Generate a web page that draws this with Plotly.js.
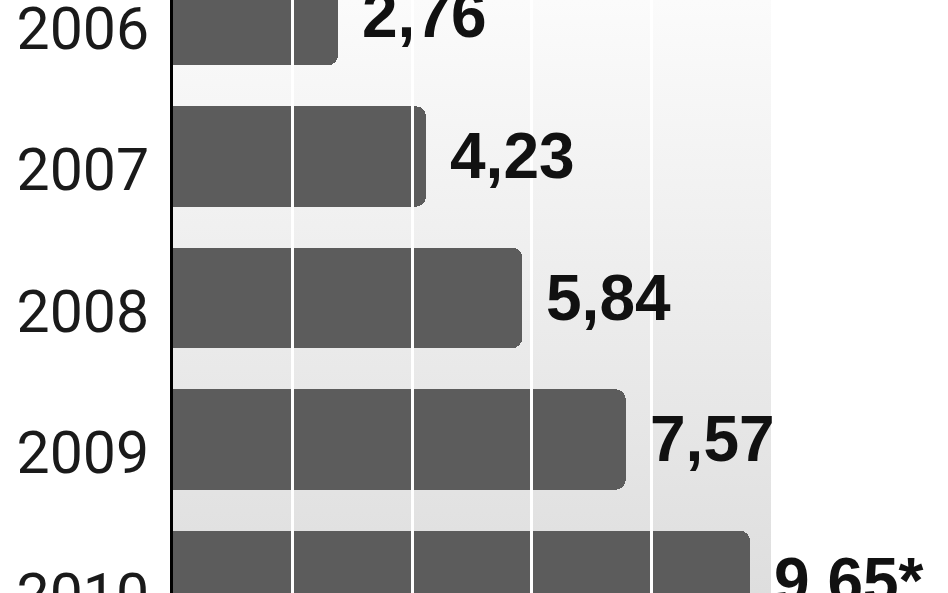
<!DOCTYPE html>
<html>
<head>
<meta charset="utf-8">
<script src="https://cdn.plot.ly/plotly-3.0.1.min.js"></script>
<style>
  html, body { margin: 0; padding: 0; background: #fff; }
  #chart { width: 948px; height: 593px; }
</style>
</head>
<body>
<div id="chart"></div>
<script>
// values
const years = ['2006', '2007', '2008', '2009', '2010'];
const values = [2.76, 4.23, 5.84, 7.57, 9.65];
const valueLabels = ['2,76', '4,23', '5,84', '7,57', '9,65*'];
const gridValues = [2, 4, 6, 8];

const BAR_COLOR = '#5c5c5c';
const LABEL_FONT = 'Liberation Sans, Arial, sans-serif';

// soft vertical gradient behind the plot area
const bgSvg = '<svg xmlns="http://www.w3.org/2000/svg" width="10" height="100" preserveAspectRatio="none">' +
  '<defs><linearGradient id="g" x1="0" y1="0" x2="0" y2="1">' +
  '<stop offset="0" stop-color="#fbfbfb"/><stop offset="1" stop-color="#dedede"/>' +
  '</linearGradient></defs><rect width="10" height="100" fill="url(#g)"/></svg>';

const trace = {
  type: 'bar',
  orientation: 'h',
  x: values,
  y: years,
  width: 0.71,
  marker: { color: BAR_COLOR, cornerradius: 10, line: { width: 0 } },
  hoverinfo: 'skip',
};

// category axis: annotations use the serial index of each year
const annotations = years.map((yr, i) => ({
  x: values[i],
  y: i,
  xref: 'x',
  yref: 'y',
  text: '<b>' + valueLabels[i] + '</b>',
  showarrow: false,
  xanchor: 'left',
  yanchor: 'middle',
  xshift: 22,
  font: { family: LABEL_FONT, size: 64, color: '#111' },
}));

const layout = {
  width: 948,
  height: 593,
  margin: { l: 173, r: 177, t: 0, b: 0 },
  paper_bgcolor: '#ffffff',
  plot_bgcolor: 'rgba(0,0,0,0)',
  showlegend: false,
  bargap: 0,
  xaxis: {
    range: [0, 10],
    showgrid: false,
    zeroline: false,
    showline: false,
    tickvals: gridValues,
    ticks: 'inside',
    ticklen: 600,
    tickwidth: 3,
    tickcolor: '#ffffff',
    showticklabels: false,
    layer: 'above traces',
    fixedrange: true,
  },
  yaxis: {
    type: 'category',
    range: [4.085, -0.106],
    showgrid: false,
    zeroline: false,
    showline: true,
    linecolor: '#000000',
    linewidth: 3,
    ticks: '',
    ticklabelstandoff: 9,
    ticklabelshift: -13,
    tickfont: { family: 'Roboto, sans-serif', size: 59, color: '#1a1a1a' },
    layer: 'above traces',
    fixedrange: true,
  },
  images: [{
    source: 'data:image/svg+xml;charset=utf-8,' + encodeURIComponent(bgSvg),
    xref: 'paper', yref: 'paper',
    x: 0, y: 1, sizex: 1, sizey: 1,
    xanchor: 'left', yanchor: 'top',
    sizing: 'stretch',
    layer: 'below',
  }],
  annotations: annotations,
};

Plotly.newPlot('chart', [trace], layout, { displayModeBar: false, staticPlot: true });
</script>
</body>
</html>
